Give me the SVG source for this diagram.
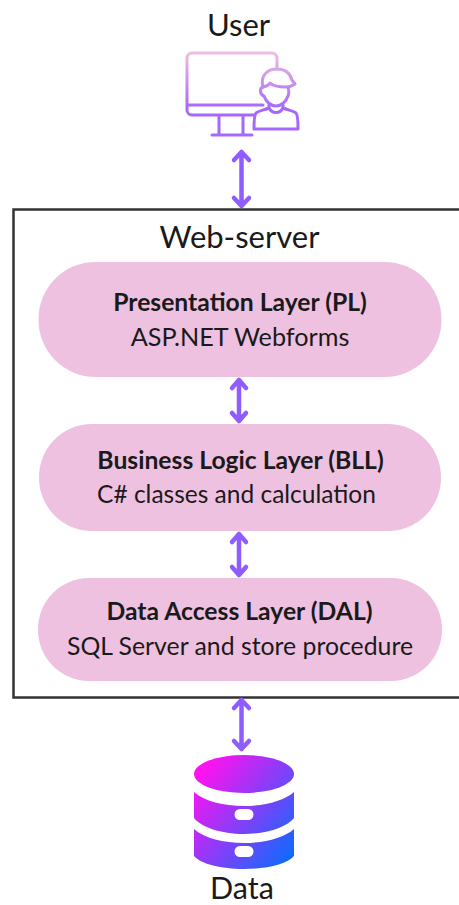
<svg xmlns="http://www.w3.org/2000/svg" width="459" height="905" viewBox="0 0 459 905">
<style>
text{font-family:Lato,"Liberation Sans",sans-serif;fill:#1a1a1a;text-anchor:middle}
.t{font-size:31px}
.h{font-size:24.7px;font-weight:700}
.s{font-size:24.8px}
.pill{fill:#eec1e0}
.arrow{fill:none;stroke:#8f5cff;stroke-width:4.5;stroke-linecap:round;stroke-linejoin:round}
.ico{fill:none;stroke:url(#ug);stroke-width:3;stroke-linecap:round;stroke-linejoin:round}
</style>
<defs>
<linearGradient id="ug" gradientUnits="userSpaceOnUse" x1="0" y1="52" x2="0" y2="108"><stop offset="0" stop-color="#eebfe0"/><stop offset="1" stop-color="#a668fb"/></linearGradient>
<linearGradient id="dg" gradientUnits="userSpaceOnUse" x1="194" y1="780" x2="294" y2="858"><stop offset="0" stop-color="#ff12f0"/><stop offset="1" stop-color="#0a6cff"/></linearGradient>
</defs>
<rect width="459" height="905" fill="#fff"/>
<g id="user">
<text class="t" x="238.500" y="36">User</text>
<g class="ico">
<path d="M277 69V58a5 5 0 0 0-5-5H192a5 5 0 0 0-5 5V110a5 5 0 0 0 5 5H255M187 105H263"/>
<path d="M219 116V134M243 116V134M212 135H252"/>
<path d="M263 87c-3-11 4-18 14-18c8 0 13 4 15 11l3 4c-3 2-6 3-9 3c-6 0-13-1-16-4c-1 2-3 3-7 4z"/>
<path d="M263 87c-4 1-3 8 1 9c2 6 7 10 12 10c5 0 10-4 12-10c1-2 1-5 0-9"/>
<path d="M269 105v3c-5 2-10 3-13 5c-1 1-2 3-2 16h44c0-13-1-15-2-16c-3-2-8-3-13-5v-3"/>
<path d="M269 108c3 6 11 6 14 0"/>
</g>
</g>
<g id="web-server">
<rect x="13.500" y="209.500" width="460" height="488" fill="none" stroke="#333" stroke-width="2.500"/>
<text class="t" x="239.500" y="248">Web-server</text>
</g>
<g id="pl">
<rect class="pill" x="38.500" y="262" width="403" height="115" rx="57"/>
<text class="h" x="240" y="311">Presentation Layer (PL)</text>
<text class="s" style="font-size:25.2px" x="240" y="346">ASP.NET Webforms</text>
</g>
<g id="bll">
<rect class="pill" x="39" y="424" width="402" height="107" rx="53"/>
<text class="h" x="240.500" y="469">Business Logic Layer (BLL)</text>
<text class="s" style="font-size:24.5px" x="236.500" y="503">C# classes and calculation</text>
</g>
<g id="dal">
<rect class="pill" x="38" y="578" width="404" height="103" rx="51"/>
<text class="h" x="239.500" y="620">Data Access Layer (DAL)</text>
<text class="s" x="240" y="655">SQL Server and store procedure</text>
</g>
<g id="data">
<g fill="url(#dg)">
<ellipse cx="244" cy="774" rx="50" ry="19"/>
<path fill-rule="evenodd" d="M194 792c10 9 30 14 50 14s40-5 50-14v26c-7 9-27 16-50 16s-43-7-50-16zM240 809a5 5 0 0 0 0 11h8a5 5 0 0 0 0-11z"/>
<path fill-rule="evenodd" d="M194 829c10 9 30 14 50 14s40-5 50-14v27c-7 8-27 13-50 13s-43-5-50-13zM240 846a5 5 0 0 0 0 11h8a5 5 0 0 0 0-11z"/>
</g>
<text class="t" style="font-size:30.5px" x="242" y="898.500">Data</text>
</g>
<g id="connectors">
<path class="arrow" d="M241.500 152V206M234 160L241.500 152L249 160M234 198L241.500 206L249 198"/>
<path class="arrow" d="M239 380V421M232 388L239 380L246 388M232 413L239 421L246 413"/>
<path class="arrow" d="M239 534V575M232 542L239 534L246 542M232 567L239 575L246 567"/>
<path class="arrow" d="M241.500 700V749M234 708L241.500 700L249 708M234 741L241.500 749L249 741"/>
</g>
</svg>
